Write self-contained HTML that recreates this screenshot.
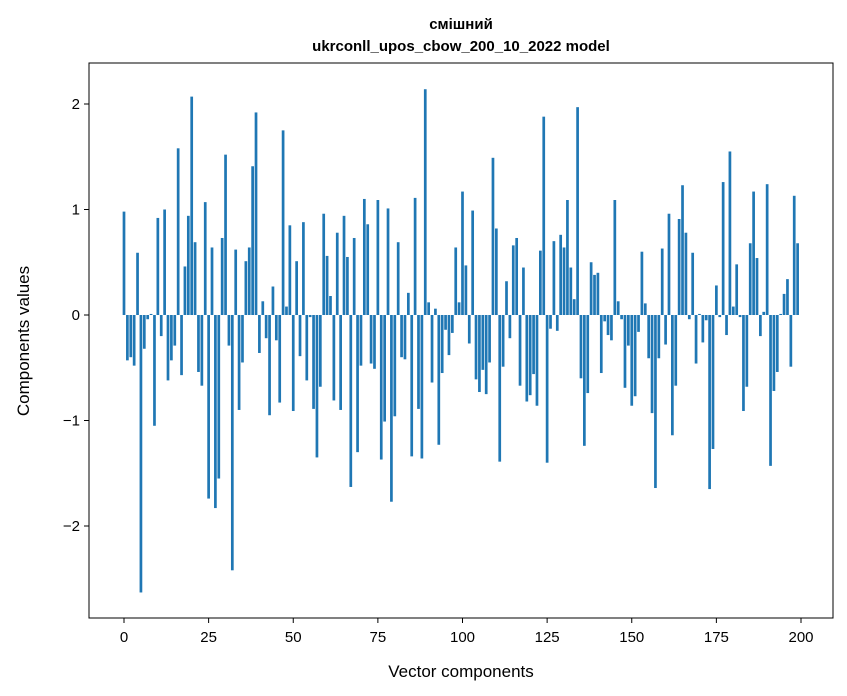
<!DOCTYPE html>
<html><head><meta charset="utf-8"><style>body{margin:0;background:#fff}svg{display:block;font-family:"Liberation Sans","DejaVu Sans",sans-serif}</style></head>
<body>
<svg id="chart" width="847" height="696">
<text x="461" y="29" text-anchor="middle" font-size="15" font-weight="bold">смішний</text>
<text x="461" y="51" text-anchor="middle" font-size="15" font-weight="bold">ukrconll_upos_cbow_200_10_2022 model</text>
<g id="bars"></g>
<g id="axes"></g>
<rect x="89" y="63" width="744" height="555" fill="none" stroke="#000" stroke-width="1"/>
<text x="461" y="677" text-anchor="middle" font-size="17">Vector components</text>
<text transform="translate(29,341) rotate(-90)" text-anchor="middle" font-size="17">Components values</text>
</svg>
<script>
const values = [0.98,-0.43,-0.40,-0.48,0.59,-2.63,-0.32,-0.04,0.01,-1.05,0.92,-0.20,1.0,-0.62,-0.43,-0.29,1.58,-0.57,0.46,0.94,2.07,0.69,-0.54,-0.67,1.07,-1.74,0.64,-1.83,-1.55,0.73,1.52,-0.29,-2.42,0.62,-0.90,-0.45,0.51,0.64,1.41,1.92,-0.36,0.13,-0.22,-0.95,0.27,-0.24,-0.83,1.75,0.08,0.85,
-0.91,0.51,-0.39,0.88,-0.62,-0.02,-0.89,-1.35,-0.68,0.96,0.56,0.18,-0.81,0.78,-0.90,0.94,0.55,-1.63,0.73,-1.30,-0.48,1.10,0.86,-0.46,-0.51,1.09,-1.37,-1.01,1.01,-1.77,-0.96,0.69,-0.40,-0.42,0.21,-1.34,1.11,-0.89,-1.36,2.14,0.12,-0.64,0.06,-1.23,-0.55,-0.14,-0.38,-0.17,0.64,0.12,
1.17,0.47,-0.27,0.99,-0.61,-0.73,-0.52,-0.75,-0.45,1.49,0.82,-1.39,-0.49,0.32,-0.22,0.66,0.73,-0.67,0.45,-0.82,-0.76,-0.56,-0.86,0.61,1.88,-1.40,-0.13,0.70,-0.15,0.76,0.64,1.09,0.45,0.15,1.97,-0.60,-1.24,-0.74,0.50,0.38,0.40,-0.55,-0.06,-0.19,-0.24,1.09,0.13,-0.04,-0.69,-0.29,
-0.86,-0.77,-0.16,0.60,0.11,-0.41,-0.93,-1.64,-0.41,0.63,-0.28,0.96,-1.14,-0.67,0.91,1.23,0.78,-0.04,0.59,-0.46,0.01,-0.26,-0.05,-1.65,-1.27,0.28,-0.02,1.26,-0.19,1.55,0.08,0.48,-0.02,-0.91,-0.68,0.68,1.17,0.54,-0.20,0.03,1.24,-1.43,-0.72,-0.54,0.01,0.20,0.34,-0.49,1.13,0.68];
const xTicks = [0,25,50,75,100,125,150,175,200];
const yTicks = [-2,-1,0,1,2];
const yTickLabels = ["\u22122","\u22121","0","1","2"];
const NS="http://www.w3.org/2000/svg";
const xs = v => 124 + v*(801-124)/200;
const ys = v => 315 - v*105.5;
const bars=document.getElementById('bars');
values.forEach((v,i)=>{
  const r=document.createElementNS(NS,'rect');
  const w=0.8*(801-124)/200;
  r.setAttribute('x',xs(i)-w/2);
  r.setAttribute('width',w);
  r.setAttribute('y',Math.min(ys(v),ys(0)));
  r.setAttribute('height',Math.abs(ys(v)-ys(0)));
  r.setAttribute('fill','#1f77b4');
  
  
  bars.appendChild(r);
});
const axes=document.getElementById('axes');
xTicks.forEach(t=>{
  const l=document.createElementNS(NS,'line');
  l.setAttribute('x1',xs(t));l.setAttribute('x2',xs(t));l.setAttribute('y1',618);l.setAttribute('y2',623);l.setAttribute('stroke','#000');
  
  
  axes.appendChild(l);
  const tx=document.createElementNS(NS,'text');
  tx.setAttribute('x',xs(t));tx.setAttribute('y',642);tx.setAttribute('text-anchor','middle');tx.setAttribute('font-size','15');
  tx.textContent=t;
  
  
  axes.appendChild(tx);
});
yTicks.forEach((t,k)=>{
  const l=document.createElementNS(NS,'line');
  l.setAttribute('x1',84);l.setAttribute('x2',89);l.setAttribute('y1',ys(t));l.setAttribute('y2',ys(t));l.setAttribute('stroke','#000');
  
  
  axes.appendChild(l);
  const tx=document.createElementNS(NS,'text');
  tx.setAttribute('x',80);tx.setAttribute('y',ys(t)+5);tx.setAttribute('text-anchor','end');tx.setAttribute('font-size','15');
  tx.textContent=yTickLabels[k];
  
  
  axes.appendChild(tx);
});
</script>
</body></html>
